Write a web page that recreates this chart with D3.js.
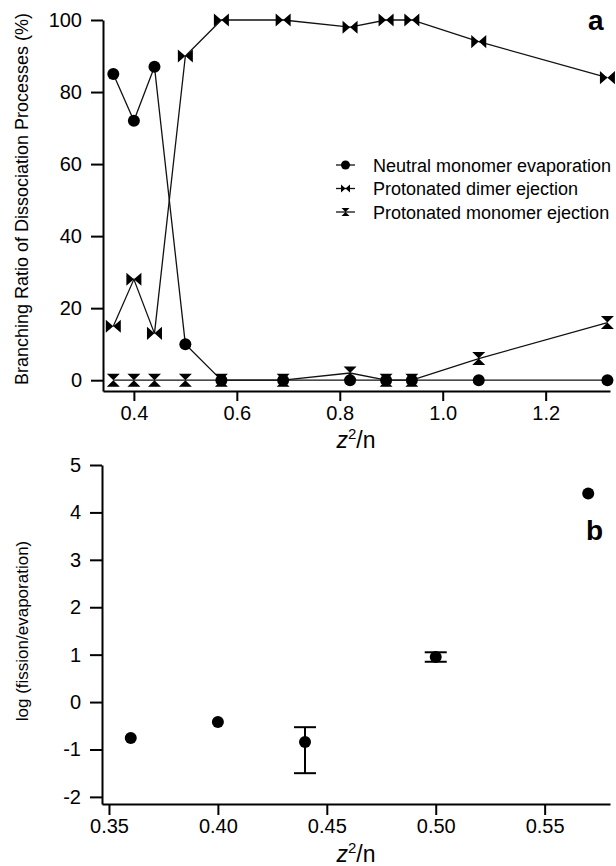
<!DOCTYPE html>
<html>
<head>
    <title>Branching ratio of dissociation processes</title>
    <style>
        body { margin: 0; background: #fff; }
        svg { font-family: Arial, "Liberation Sans", sans-serif; }
        .axis path, .axis line { stroke: #000; stroke-width: 2; }
        .axis text { font-size: 20px; fill: #000; }
    </style>
</head>
<body>
    <div id="chart"></div>

    <script src="https://d3js.org/d3.v7.min.js"></script>
    <script>
        // 数据 (a)
        var z2n = [0.36, 0.40, 0.44, 0.50, 0.57, 0.69, 0.82, 0.89, 0.94, 1.07, 1.32];
        var neutralMonomer = [85, 72, 87, 10, 0, 0, 0, 0, 0, 0, 0];
        var protonatedDimer = [15, 28, 13, 90, 100, 100, 98, 100, 100, 94, 84];
        var protonatedMonomer = [0, 0, 0, 0, 0, 0, 2, 0, 0, 6, 16];
        var legendNames = ["Neutral monomer evaporation", "Protonated dimer ejection", "Protonated monomer ejection"];
        var xTicksA = [0.4, 0.6, 0.8, 1.0, 1.2];
        var yTicksA = [0, 20, 40, 60, 80, 100];

        // 数据 (b)
        var z2nB = [0.36, 0.40, 0.44, 0.50, 0.57];
        var logRatio = [-0.76, -0.42, -0.84, 0.95, 4.4];
        var errLow = [null, null, -1.5, 0.85, null];
        var errHigh = [null, null, -0.53, 1.05, null];
        var xTicksB = [0.35, 0.40, 0.45, 0.50, 0.55];
        var yTicksB = [-2, -1, 0, 1, 2, 3, 4, 5];

        var width = 616, height = 866;

        var svg = d3.select("#chart")
            .append("svg")
            .attr("width", width)
            .attr("height", height);

        // 标记形状
        function bowtie(s) {
            return "M" + (-s) + "," + (-s * 0.87) + "L0,0L" + (-s) + "," + (s * 0.87) + "Z" +
                   "M" + s + "," + (-s * 0.87) + "L0,0L" + s + "," + (s * 0.87) + "Z";
        }
        function hourglass(s) {
            return "M" + (-s) + "," + (-s) + "L0,0L" + s + "," + (-s) + "Z" +
                   "M" + (-s) + "," + s + "L0,0L" + s + "," + s + "Z";
        }

        // ===== 图 a =====
        var xA = d3.scaleLinear().domain([0.34, 1.325]).range([103, 610]);
        var yA = d3.scaleLinear().domain([-3, 100]).range([391, 20]);

        svg.append("g")
            .attr("class", "axis")
            .attr("transform", "translate(0,391)")
            .call(d3.axisBottom(xA).tickValues(xTicksA).tickSize(10).tickSizeOuter(0).tickPadding(5)
                .tickFormat(d3.format(".1f")));

        svg.append("g")
            .attr("class", "axis")
            .attr("transform", "translate(103,0)")
            .call(d3.axisLeft(yA).tickValues(yTicksA).tickSize(12).tickSizeOuter(0).tickPadding(9));

        var line = d3.line()
            .x(function (d) { return xA(d[0]); })
            .y(function (d) { return yA(d[1]); });

        var seriesA = [neutralMonomer, protonatedDimer, protonatedMonomer];
        seriesA.forEach(function (vals) {
            svg.append("path")
                .datum(z2n.map(function (x, i) { return [x, vals[i]]; }))
                .attr("d", line)
                .attr("fill", "none")
                .attr("stroke", "#111")
                .attr("stroke-width", 1.3);
        });

        // 标记
        svg.append("g").selectAll("circle")
            .data(neutralMonomer)
            .enter().append("circle")
            .attr("cx", function (d, i) { return xA(z2n[i]); })
            .attr("cy", function (d) { return yA(d); })
            .attr("r", 6)
            .attr("fill", "#000");

        svg.append("g").selectAll("path")
            .data(protonatedDimer)
            .enter().append("path")
            .attr("transform", function (d, i) { return "translate(" + xA(z2n[i]) + "," + yA(d) + ")"; })
            .attr("d", bowtie(7.5))
            .attr("fill", "#000");

        svg.append("g").selectAll("path")
            .data(protonatedMonomer)
            .enter().append("path")
            .attr("transform", function (d, i) { return "translate(" + xA(z2n[i]) + "," + yA(d) + ")"; })
            .attr("d", hourglass(6.5))
            .attr("fill", "#000");

        // 图例
        var legend = svg.append("g").attr("transform", "translate(336,165)");
        legendNames.forEach(function (name, i) {
            var row = legend.append("g").attr("transform", "translate(0," + (i * 23.5) + ")");
            row.append("line").attr("x1", 0).attr("x2", 19).attr("y1", 0).attr("y2", 0)
                .attr("stroke", "#111").attr("stroke-width", 1.3);
            if (i === 0) {
                row.append("circle").attr("cx", 9.5).attr("cy", 0).attr("r", 4.5).attr("fill", "#000");
            } else if (i === 1) {
                row.append("path").attr("transform", "translate(9.5,0)").attr("d", bowtie(4.5)).attr("fill", "#000");
            } else {
                row.append("path").attr("transform", "translate(9.5,0)").attr("d", hourglass(4)).attr("fill", "#000");
            }
            row.append("text").attr("x", 37).attr("y", 6.5)
                .attr("font-size", 18).text(name);
        });

        svg.append("text").attr("x", 588).attr("y", 30)
            .attr("font-size", 28).attr("font-weight", "bold").text("a");

        // 轴标题
        svg.append("text")
            .attr("transform", "translate(28,199) rotate(-90)")
            .attr("text-anchor", "middle")
            .attr("font-size", 18)
            .text("Branching Ratio of Dissociation Processes (%)");

        function z2Label(x, y) {
            var t = svg.append("text").attr("x", x).attr("y", y)
                .attr("text-anchor", "middle").attr("font-size", 23);
            t.append("tspan").attr("font-style", "italic").text("z");
            t.append("tspan").attr("font-size", 15).attr("dy", -9).text("2");
            t.append("tspan").attr("dy", 9).text("/n");
        }
        z2Label(356, 448);

        // ===== 图 b =====
        var xB = d3.scaleLinear().domain([0.3468, 0.58]).range([102, 610]);
        var yB = d3.scaleLinear().domain([-2.15, 5]).range([804, 465]);

        svg.append("g")
            .attr("class", "axis")
            .attr("transform", "translate(0,804)")
            .call(d3.axisBottom(xB).tickValues(xTicksB).tickSize(11).tickSizeOuter(0).tickPadding(4)
                .tickFormat(d3.format(".2f")));

        svg.append("g")
            .attr("class", "axis")
            .attr("transform", "translate(102,0)")
            .call(d3.axisLeft(yB).tickValues(yTicksB).tickSize(12).tickSizeOuter(0).tickPadding(9)
                .tickFormat(function (d) { return String(d); }));

        // 误差线
        var eb = svg.append("g").attr("stroke", "#000").attr("stroke-width", 2);
        z2nB.forEach(function (x, i) {
            if (errLow[i] === null) return;
            var cx = xB(x);
            eb.append("line").attr("x1", cx).attr("x2", cx).attr("y1", yB(errLow[i])).attr("y2", yB(errHigh[i]));
            eb.append("line").attr("x1", cx - 11).attr("x2", cx + 11).attr("y1", yB(errLow[i])).attr("y2", yB(errLow[i]));
            eb.append("line").attr("x1", cx - 11).attr("x2", cx + 11).attr("y1", yB(errHigh[i])).attr("y2", yB(errHigh[i]));
        });

        svg.append("g").selectAll("circle")
            .data(logRatio)
            .enter().append("circle")
            .attr("cx", function (d, i) { return xB(z2nB[i]); })
            .attr("cy", function (d) { return yB(d); })
            .attr("r", 6)
            .attr("fill", "#000");

        svg.append("text").attr("x", 586).attr("y", 540)
            .attr("font-size", 28).attr("font-weight", "bold").text("b");

        svg.append("text")
            .attr("transform", "translate(28,631) rotate(-90)")
            .attr("text-anchor", "middle")
            .attr("font-size", 17)
            .text("log (fission/evaporation)");

        z2Label(356, 862);
    </script>
</body>
</html>
